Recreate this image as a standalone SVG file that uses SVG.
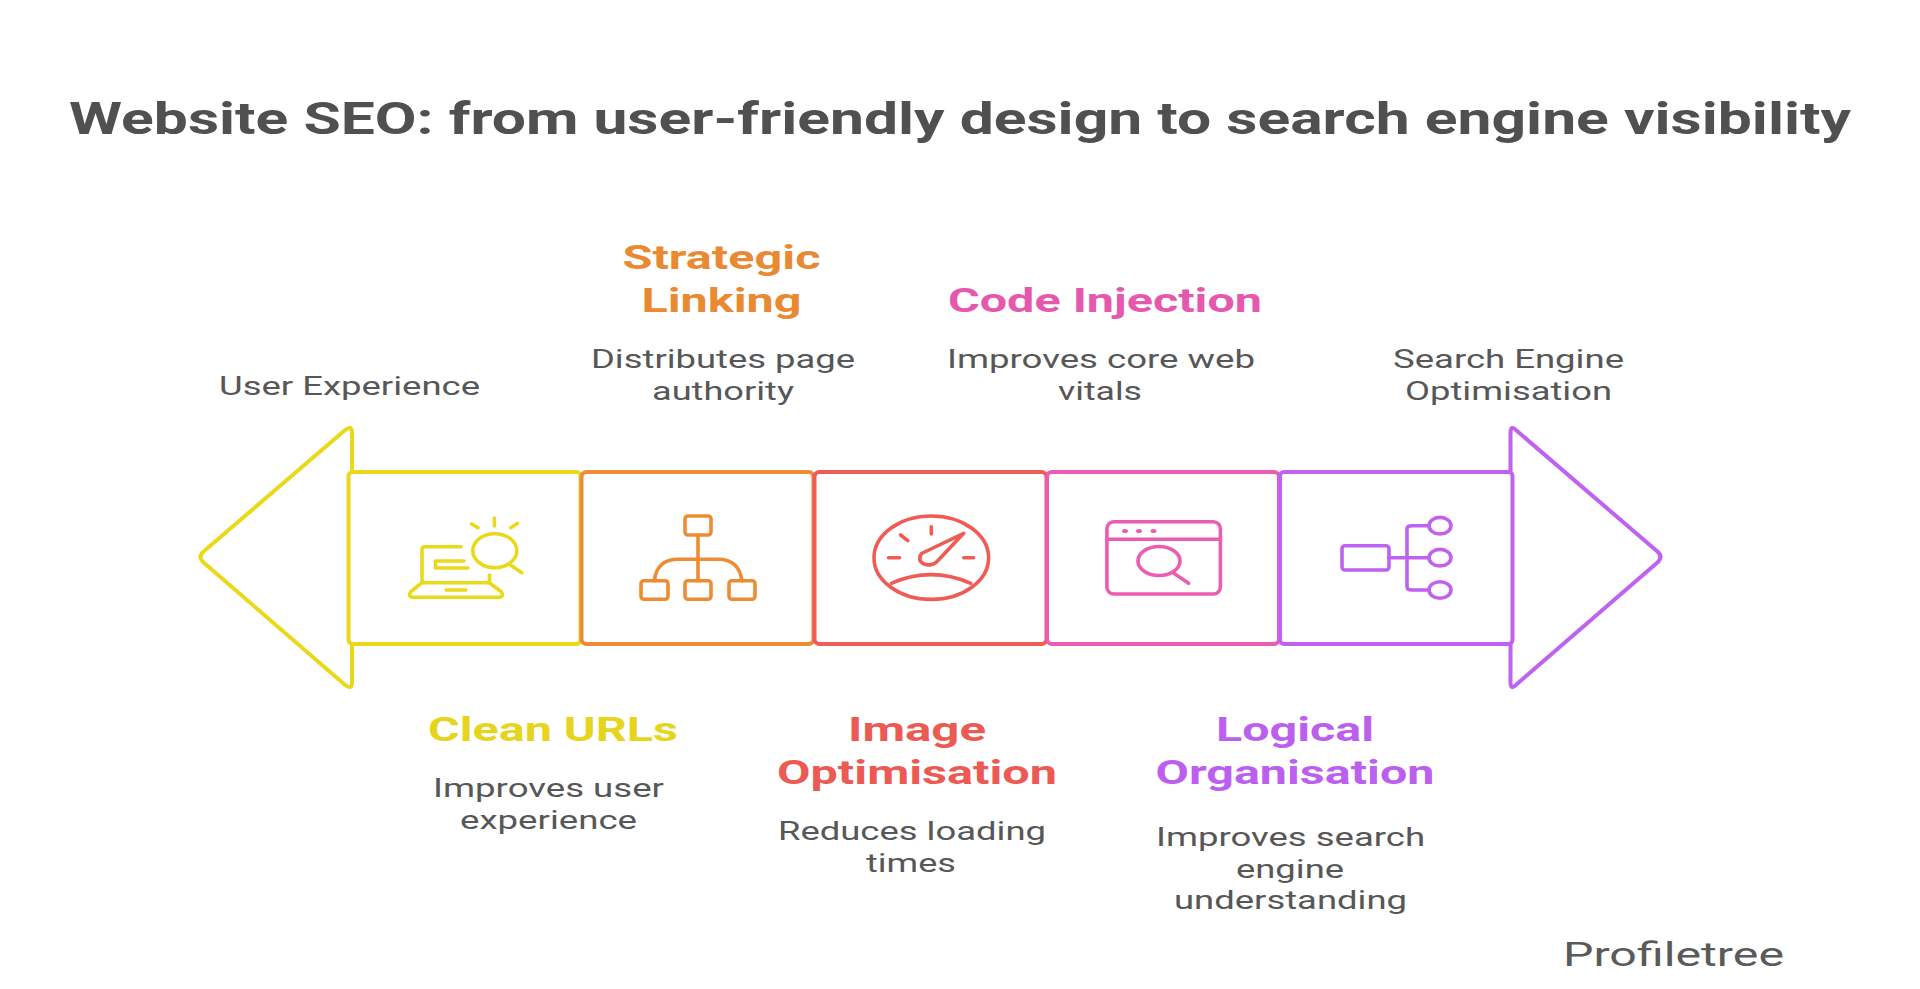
<svg xmlns="http://www.w3.org/2000/svg" width="1920" height="989" viewBox="0 0 1920 989">
<style>
text{font-family:Roboto,"Liberation Sans",sans-serif;}
.t{font-size:44px;font-weight:700;fill:#505050}
.h{font-size:34px;font-weight:700}
.b{font-size:25.500px;font-weight:400;fill:#575757}
.s{fill:none;stroke-width:4;stroke-linejoin:round;stroke-linecap:round}
.i{fill:none;stroke-width:3.600;stroke-linejoin:round;stroke-linecap:round}
.y{stroke:#EAD91B}.o{stroke:#EE8C34}.r{stroke:#EF5C55}.p{stroke:#EC5CB2}.v{stroke:#C062F0}
</style>
<rect width="1920" height="989" fill="#fff"/>
<text id="title" class="t" x="69" y="134" textLength="1782" lengthAdjust="spacingAndGlyphs">Website SEO: from user-friendly design to search engine visibility</text>
<g id="node-start">
<path class="s y" d="M352 472V433Q352 424 344 431L203 552Q198 557 203 562L344 684Q352 691 352 682V644"/>
<text class="b" x="219" y="395" textLength="261" lengthAdjust="spacingAndGlyphs">User Experience</text>
</g>
<g id="node-clean-urls">
<rect class="s y" x="348.500" y="472" width="232" height="172" rx="4"/>
<path class="i y" d="M461 546.700H425Q422 546.700 422 549.700V582.700H489.400V575M422 582.700L411 591.500Q407 597.300 414 597.300H498Q505 597.300 501 591.500L489.400 582.700M446 590H466M464 561H435.500V568H468M510.400 565L521.800 572.700M494.400 518V526M471.700 524L478 527.700M517.500 523.300L510.800 527.700"/>
<ellipse class="i y" cx="494.800" cy="550.700" rx="22" ry="17"/>
<text class="h" style="fill:#E6D51C" x="428" y="741" textLength="250" lengthAdjust="spacingAndGlyphs">Clean URLs</text>
<text class="b" x="433" y="797" textLength="231" lengthAdjust="spacingAndGlyphs">Improves user</text>
<text class="b" x="460" y="829" textLength="177" lengthAdjust="spacingAndGlyphs">experience</text>
</g>
<g id="node-strategic-linking">
<rect class="s o" x="581.500" y="472" width="232" height="172" rx="5"/>
<rect class="i o" x="685" y="516" width="26" height="19" rx="3"/>
<rect class="i o" x="641" y="580.700" width="27" height="18.600" rx="3"/>
<rect class="i o" x="685" y="580.700" width="26" height="18.600" rx="3"/>
<rect class="i o" x="729" y="580.700" width="26" height="18.600" rx="3"/>
<path class="i o" d="M698 535V580.700M654.300 580.700C656 567 664 559.300 678 559.300H718C732 559.300 740 567 742 580.700"/>
<text class="h" style="fill:#E98A32" x="622.500" y="269" textLength="198" lengthAdjust="spacingAndGlyphs">Strategic</text>
<text class="h" style="fill:#E98A32" x="641.500" y="312" textLength="160" lengthAdjust="spacingAndGlyphs">Linking</text>
<text class="b" x="591" y="368" textLength="264" lengthAdjust="spacingAndGlyphs">Distributes page</text>
<text class="b" x="652" y="400" textLength="142" lengthAdjust="spacingAndGlyphs">authority</text>
</g>
<g id="node-image-optimisation">
<rect class="s r" x="814.500" y="472" width="232" height="172" rx="5"/>
<ellipse class="i r" cx="931.300" cy="557.700" rx="57.300" ry="41.700"/>
<path class="i r" d="M931.300 526.700V534M900.600 535L907.800 540.700M888.600 557.700H899.500M963.700 557.700H973.600M891.300 583.300Q931 566 970.800 583.300M963.700 533.300L921.500 553.500Q917 561 924 564Q932 567 938 560.500Z"/>
<text class="h" style="fill:#EC5A54" x="848" y="741" textLength="138" lengthAdjust="spacingAndGlyphs">Image</text>
<text class="h" style="fill:#EC5A54" x="777" y="784" textLength="280" lengthAdjust="spacingAndGlyphs">Optimisation</text>
<text class="b" x="778" y="840" textLength="268" lengthAdjust="spacingAndGlyphs">Reduces loading</text>
<text class="b" x="866" y="872" textLength="90" lengthAdjust="spacingAndGlyphs">times</text>
</g>
<g id="node-code-injection">
<rect class="s p" x="1047" y="472" width="232" height="172" rx="5"/>
<rect class="i p" x="1106.900" y="521.700" width="113.500" height="72.300" rx="7"/>
<path class="i p" d="M1106.900 539.300H1220.400M1173.800 573.300L1188.600 583.300"/>
<ellipse class="i p" cx="1159" cy="561" rx="21" ry="14.500"/>
<g fill="#EC5CB2"><ellipse cx="1125" cy="531" rx="3" ry="2"/><ellipse cx="1139" cy="531" rx="3" ry="2"/><ellipse cx="1153.500" cy="531" rx="3" ry="2"/></g>
<text class="h" style="fill:#E558AE" x="948" y="312" textLength="314" lengthAdjust="spacingAndGlyphs">Code Injection</text>
<text class="b" x="947" y="368" textLength="308" lengthAdjust="spacingAndGlyphs">Improves core web</text>
<text class="b" x="1058" y="400" textLength="84" lengthAdjust="spacingAndGlyphs">vitals</text>
</g>
<g id="node-logical-organisation">
<rect class="s v" x="1280" y="472" width="232.500" height="172" rx="4"/>
<rect class="i v" x="1342" y="545.700" width="47" height="24.300" rx="3"/>
<path class="i v" d="M1389 557.700H1429M1429 525.700H1412Q1407 525.700 1407 529V586.500Q1407 590 1412 590H1429"/>
<ellipse class="i v" cx="1440" cy="525.700" rx="11" ry="8.300"/>
<ellipse class="i v" cx="1440" cy="557.700" rx="11" ry="8.300"/>
<ellipse class="i v" cx="1440" cy="590" rx="11" ry="8.300"/>
<text class="h" style="fill:#BD5FEE" x="1216" y="741" textLength="158" lengthAdjust="spacingAndGlyphs">Logical</text>
<text class="h" style="fill:#BD5FEE" x="1155.500" y="784" textLength="279" lengthAdjust="spacingAndGlyphs">Organisation</text>
<text class="b" x="1156" y="846" textLength="269" lengthAdjust="spacingAndGlyphs">Improves search</text>
<text class="b" x="1236" y="878" textLength="108" lengthAdjust="spacingAndGlyphs">engine</text>
<text class="b" x="1174" y="909" textLength="233" lengthAdjust="spacingAndGlyphs">understanding</text>
</g>
<g id="node-end">
<path class="s v" d="M1510.500 472V433Q1510.500 424 1517 431L1658 552Q1663 557 1658 562L1517 684Q1510.500 691 1510.500 682V644"/>
<text class="b" x="1393" y="368" textLength="231" lengthAdjust="spacingAndGlyphs">Search Engine</text>
<text class="b" x="1405" y="400" textLength="207" lengthAdjust="spacingAndGlyphs">Optimisation</text>
</g>
<g id="connectors"></g>
<text id="credit" font-size="34" fill="#5a5a5a" x="1563" y="966" textLength="221" lengthAdjust="spacingAndGlyphs">Profiletree</text>
</svg>
